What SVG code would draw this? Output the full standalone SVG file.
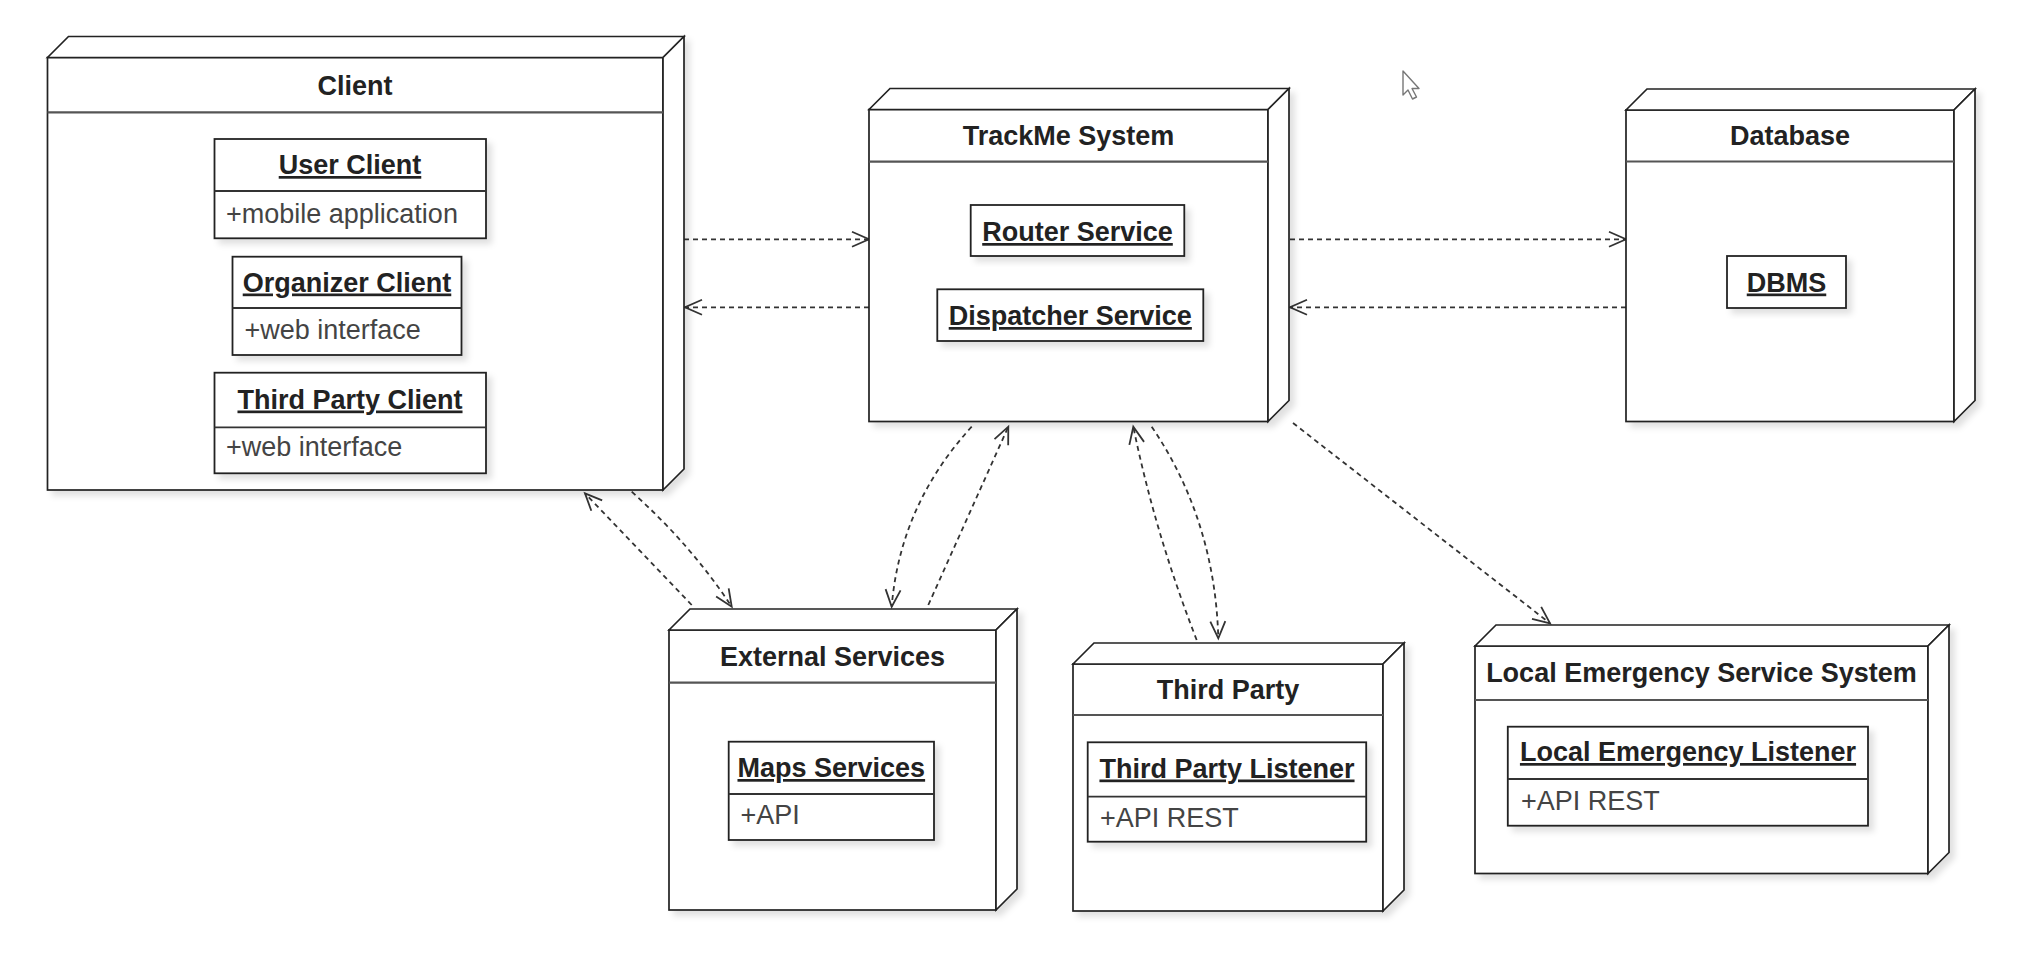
<svg xmlns="http://www.w3.org/2000/svg" width="2026" height="970" viewBox="0 0 2026 970">
<style>
  .shape { fill: #ffffff; stroke: #222222; stroke-width: 1.7; stroke-linejoin: miter; }
  .hdr { stroke: #555555; stroke-width: 2.2; }
  .box { fill: #ffffff; stroke: #222222; stroke-width: 1.8; }
  .sep { stroke: #333333; stroke-width: 1.8; }
  .title { font-family: "Liberation Sans", Arial, sans-serif; font-size: 27px; font-weight: bold; fill: #222222; text-anchor: middle; }
  .name { font-family: "Liberation Sans", Arial, sans-serif; font-size: 27px; font-weight: bold; fill: #222222; text-anchor: middle; text-decoration: underline; }
  .attr { font-family: "Liberation Sans", Arial, sans-serif; font-size: 27px; fill: #444444; }
  .dep { fill: none; stroke: #333333; stroke-width: 1.8; stroke-dasharray: 5 4; marker-end: url(#open); }
</style>
<defs>
  <filter id="shadow" x="-10%" y="-10%" width="130%" height="130%">
    <feDropShadow dx="5" dy="5" stdDeviation="3" flood-color="#000000" flood-opacity="0.12"/>
  </filter>
  <marker id="open" markerUnits="userSpaceOnUse" markerWidth="22" markerHeight="22" viewBox="0 0 22 22" refX="19" refY="11" orient="auto">
    <path d="M2,3.5 L19,11 L2,18.5" fill="none" stroke="#333333" stroke-width="1.8"/>
  </marker>
</defs>
<rect x="0" y="0" width="2026" height="970" fill="#ffffff"/>

<g id="connectors">
  <path class="dep" d="M684,239.3 L869,239.3"/>
  <path class="dep" d="M869,307.3 L685,307.3"/>
  <path class="dep" d="M1290,239.3 L1626,239.3"/>
  <path class="dep" d="M1626,307.3 L1290,307.3"/>
  <path class="dep" d="M691.7,605 L585,493.3"/>
  <path class="dep" d="M631.7,491.7 Q692,546 731.7,606.7"/>
  <path class="dep" d="M971.7,426.7 Q900,505 891.7,606.7"/>
  <path class="dep" d="M928.3,605 L1008.3,426.7"/>
  <path class="dep" d="M1196.7,640 Q1155,533 1133.3,426.7"/>
  <path class="dep" d="M1151.7,426.7 Q1215,520 1218.3,638.3"/>
  <path class="dep" d="M1293,423 L1550,623.3"/>
</g>

<g id="client">
  <g filter="url(#shadow)">
    <rect class="shape" x="47.5" y="57.5" width="615.5" height="432.5"/>
    <polygon class="shape" points="47.5,57.5 68.5,36.5 684,36.5 663,57.5"/>
    <polygon class="shape" points="663,57.5 684,36.5 684,469 663,490"/>
  </g>
  <line class="hdr" x1="47.5" y1="112.3" x2="663" y2="112.3"/>
  <text class="title" x="355" y="94.5">Client</text>
  <g id="user-client">
    <rect class="box" x="214.5" y="139" width="271.5" height="99.3" filter="url(#shadow)"/>
    <line class="sep" x1="214.5" y1="191" x2="486" y2="191"/>
    <text class="name" x="350" y="174">User Client</text>
    <text class="attr" x="226" y="223">+mobile application</text>
  </g>
  <g id="organizer-client">
    <rect class="box" x="232.5" y="256.7" width="229" height="98.3" filter="url(#shadow)"/>
    <line class="sep" x1="232.5" y1="308" x2="461.5" y2="308" stroke-width="2.6"/>
    <text class="name" x="347" y="291.5">Organizer Client</text>
    <text class="attr" x="244.5" y="339">+web interface</text>
  </g>
  <g id="third-party-client">
    <rect class="box" x="214.5" y="372.7" width="271.5" height="100.6" filter="url(#shadow)"/>
    <line class="sep" x1="214.5" y1="427.3" x2="486" y2="427.3"/>
    <text class="name" x="350" y="408.5">Third Party Client</text>
    <text class="attr" x="226" y="456">+web interface</text>
  </g>
</g>

<g id="trackme">
  <g filter="url(#shadow)">
    <rect class="shape" x="869" y="109.5" width="399" height="312"/>
    <polygon class="shape" points="869,109.5 890,88.5 1289,88.5 1268,109.5"/>
    <polygon class="shape" points="1268,109.5 1289,88.5 1289,400.5 1268,421.5"/>
  </g>
  <line class="hdr" x1="869" y1="161.7" x2="1268" y2="161.7"/>
  <text class="title" x="1068.5" y="145">TrackMe System</text>
  <g id="router-service">
    <rect class="box" x="970.7" y="205" width="213.6" height="51" filter="url(#shadow)"/>
    <text class="name" x="1077.5" y="241">Router Service</text>
  </g>
  <g id="dispatcher-service">
    <rect class="box" x="937.3" y="289.3" width="266" height="51.7" filter="url(#shadow)"/>
    <text class="name" x="1070.3" y="325">Dispatcher Service</text>
  </g>
</g>

<g id="database">
  <g filter="url(#shadow)">
    <rect class="shape" x="1626" y="110" width="328" height="311.5"/>
    <polygon class="shape" points="1626,110 1647,89 1975,89 1954,110"/>
    <polygon class="shape" points="1954,110 1975,89 1975,400.5 1954,421.5"/>
  </g>
  <line class="hdr" x1="1626" y1="161.5" x2="1954" y2="161.5"/>
  <text class="title" x="1790" y="145">Database</text>
  <g id="dbms">
    <rect class="box" x="1727" y="256" width="119" height="52" filter="url(#shadow)"/>
    <text class="name" x="1786.5" y="291.5">DBMS</text>
  </g>
</g>

<g id="external-services">
  <g filter="url(#shadow)">
    <rect class="shape" x="669" y="630" width="327" height="280"/>
    <polygon class="shape" points="669,630 690,609 1017,609 996,630"/>
    <polygon class="shape" points="996,630 1017,609 1017,889 996,910"/>
  </g>
  <line class="hdr" x1="669" y1="682.7" x2="996" y2="682.7"/>
  <text class="title" x="832.5" y="666">External Services</text>
  <g id="maps-services">
    <rect class="box" x="728.7" y="741.7" width="205.3" height="98.3" filter="url(#shadow)"/>
    <line class="sep" x1="728.7" y1="794" x2="934" y2="794"/>
    <text class="name" x="831.3" y="777">Maps Services</text>
    <text class="attr" x="740.5" y="824">+API</text>
  </g>
</g>

<g id="third-party">
  <g filter="url(#shadow)">
    <rect class="shape" x="1073" y="664" width="310" height="247"/>
    <polygon class="shape" points="1073,664 1094,643 1404,643 1383,664"/>
    <polygon class="shape" points="1383,664 1404,643 1404,890 1383,911"/>
  </g>
  <line class="hdr" x1="1073" y1="715" x2="1383" y2="715"/>
  <text class="title" x="1228" y="698.5">Third Party</text>
  <g id="third-party-listener">
    <rect class="box" x="1087.7" y="742.3" width="278.5" height="99.4" filter="url(#shadow)"/>
    <line class="sep" x1="1087.7" y1="796.7" x2="1366.2" y2="796.7"/>
    <text class="name" x="1227" y="777.5">Third Party Listener</text>
    <text class="attr" x="1100" y="826.5">+API REST</text>
  </g>
</g>

<g id="local-emergency-service-system">
  <g filter="url(#shadow)">
    <rect class="shape" x="1475" y="646" width="453" height="227.5"/>
    <polygon class="shape" points="1475,646 1496,625 1949,625 1928,646"/>
    <polygon class="shape" points="1928,646 1949,625 1949,852.5 1928,873.5"/>
  </g>
  <line class="hdr" x1="1475" y1="700" x2="1928" y2="700"/>
  <text class="title" x="1701.5" y="681.5">Local Emergency Service System</text>
  <g id="local-emergency-listener">
    <rect class="box" x="1507.8" y="726.7" width="360.2" height="99" filter="url(#shadow)"/>
    <line class="sep" x1="1507.8" y1="779" x2="1868" y2="779"/>
    <text class="name" x="1688" y="761">Local Emergency Listener</text>
    <text class="attr" x="1521" y="810">+API REST</text>
  </g>
</g>

<g id="cursor">
  <polygon points="1403,71 1403,95 1408,90 1412.5,99 1416.5,97 1412,88.5 1419,88.5" fill="#ffffff" stroke="#777777" stroke-width="1.4" stroke-linejoin="round"/>
</g>
</svg>
